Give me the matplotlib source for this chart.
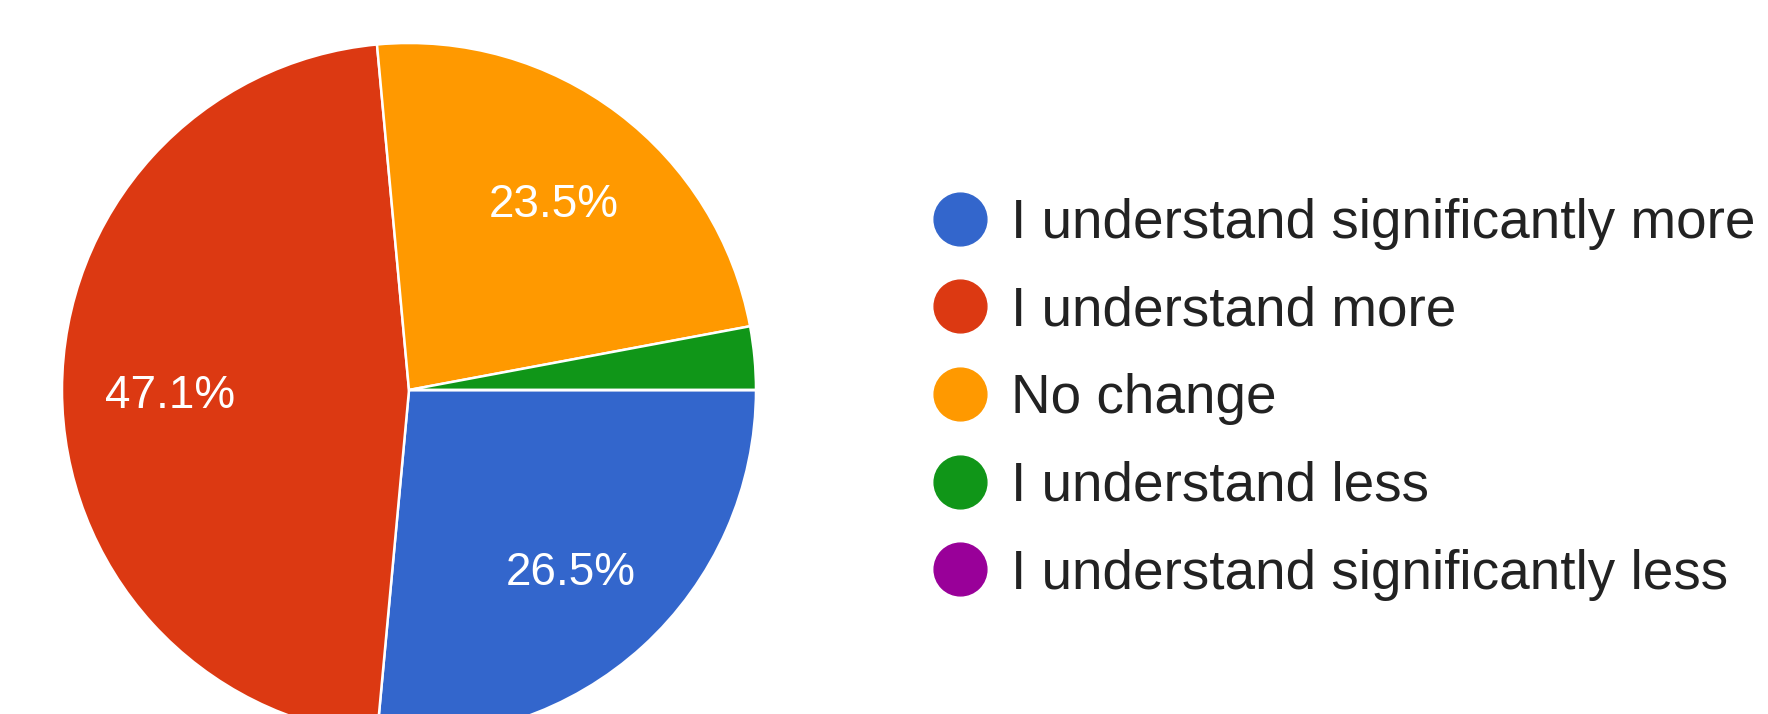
import matplotlib
matplotlib.use("Agg")
import matplotlib.pyplot as plt
from matplotlib.lines import Line2D

# Survey responses
categories = [
    "I understand significantly more",
    "I understand more",
    "No change",
    "I understand less",
    "I understand significantly less",
]
counts = [9, 16, 8, 1, 0]
colors = ["#3366cc", "#dc3912", "#ff9900", "#109618", "#990099"]

W, H, DPI = 1768, 714, 100
plt.rcParams["font.family"] = ["Liberation Sans", "DejaVu Sans"]

fig = plt.figure(figsize=(W / DPI, H / DPI), dpi=DPI)
ax = fig.add_axes([0, 0, 1, 1])

cx, cy, r = 409, H - 390, 347


def pct_label(p):
    return f"{p:.1f}%" if p >= 5 else ""


wedges, _, autotexts = ax.pie(
    counts,
    colors=colors,
    center=(cx, cy),
    radius=r,
    startangle=0,
    counterclock=False,
    autopct=pct_label,
    pctdistance=0.69,
    wedgeprops=dict(edgecolor="white", linewidth=1.8),
    textprops=dict(color="white", fontsize=33),
    frame=True,
)
# nudge percentage labels down slightly so digits sit optically centred
for t in autotexts:
    x, y = t.get_position()
    t.set_position((x, y - 6))

ax.set_xlim(0, W)
ax.set_ylim(0, H)
ax.set_aspect("equal")
ax.axis("off")

handles = [
    Line2D([], [], marker="o", linestyle="none", markersize=38,
           markerfacecolor=c, markeredgecolor=c)
    for c in colors
]
ax.legend(
    handles, categories,
    loc="upper left",
    bbox_to_anchor=(941 / W, 1 - 198 / H),
    frameon=False,
    fontsize=39.5,
    labelcolor="#222222",
    handlelength=0.7,
    handletextpad=0.58,
    labelspacing=0.65,
    borderpad=0,
    borderaxespad=0,
)

fig.savefig("out.png", dpi=DPI, facecolor="white")
